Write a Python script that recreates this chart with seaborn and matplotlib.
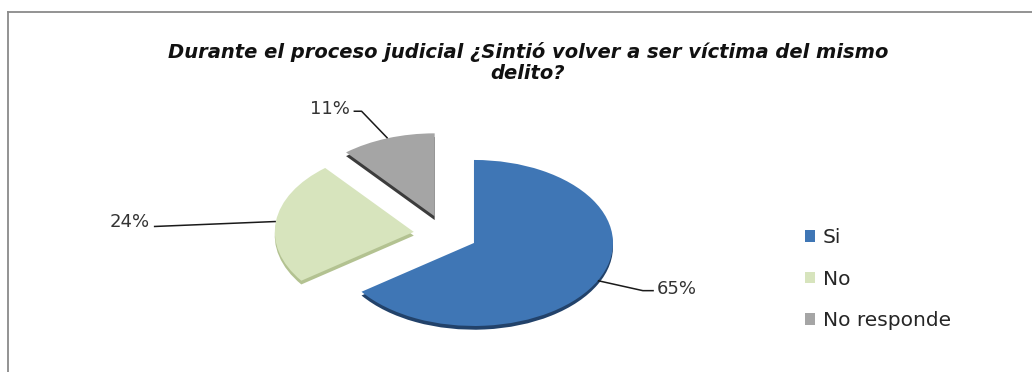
import numpy as np
import matplotlib
matplotlib.use("Agg")
import matplotlib.pyplot as plt
from matplotlib.patches import Patch
import seaborn as sns

# Survey answers
categories = ["Si", "No", "No responde"]
shares = [65, 24, 11]
pct_labels = ["65%", "24%", "11%"]
title_lines = ["Durante el proceso judicial ¿Sintió volver a ser víctima del mismo",
               "delito?"]

face_colors = ["#3f76b5", "#d7e4bd", "#a5a5a5"]
side_colors = ["#22426a", "#b3c291", "#3c3c3c"]

sns.set_theme(style="white")
plt.rcParams["font.family"] = ["DejaVu Sans"]

W, H = 1032, 372
fig = plt.figure(figsize=(W / 100, H / 100), dpi=100)
fig.patch.set_facecolor("white")

# chart-area border (top and left edges only)
frame = fig.add_axes([8 / W, 0, 1 - 8 / W, (H - 12) / H])
frame.set_xticks([]); frame.set_yticks([])
frame.patch.set_alpha(0)
for side in ("right", "bottom"):
    frame.spines[side].set_visible(False)
for side in ("left", "top"):
    frame.spines[side].set_color("#8a8a8a")
    frame.spines[side].set_linewidth(1.3)

# pie axes covering the figure; x unit = 139 px, y unit = 83 px (tilted look)
ax = fig.add_axes([0, 0, 1, 1])
rx, ry = 139.0, 83.0
cx, cy = 445.5, 234.3
explode = [0.23, 0.23, 0.23]

# extruded side of each slice, then the top faces
ax.pie(shares, explode=explode, colors=side_colors, startangle=90,
       counterclock=False, radius=1, center=(0, -0.045),
       wedgeprops=dict(linewidth=0))
wedges, _ = ax.pie(shares, explode=explode, colors=face_colors, startangle=90,
                   counterclock=False, radius=1, center=(0, 0),
                   wedgeprops=dict(linewidth=0))
ax.set_aspect("auto")
ax.set_xlim(-cx / rx, (W - cx) / rx)
ax.set_ylim((cy - H) / ry, cy / ry)
ax.axis("off")

# leader-line routes (pixel offsets from the slice edge, y downward)
routes = [
    [(0, 0), (45, 10), (56, 10)],
    [(0, 0), (-122, 5)],
    [(0, 0), (-26, -27), (-34, -27)],
]
text_offsets = [(59, 8), (-126, 0), (-38, -29)]
text_align = ["left", "right", "right"]

for w, lab, route, toff, ha in zip(wedges, pct_labels, routes, text_offsets, text_align):
    mid = np.deg2rad((w.theta1 + w.theta2) / 2)
    ax0, ay0 = w.center[0] + w.r * np.cos(mid), w.center[1] + w.r * np.sin(mid)
    xs = [ax0 + dx / rx for dx, dy in route]
    ys = [ay0 - dy / ry for dx, dy in route]
    ax.plot(xs, ys, color="#1a1a1a", lw=1.1, solid_capstyle="butt")
    ax.annotate(lab, xy=(ax0, ay0), xytext=(toff[0], -toff[1]),
                textcoords="offset pixels", ha=ha, va="center",
                fontsize=13, color="#333333")

# title
title_kw = dict(ha="center", va="baseline", fontsize=14, fontweight="bold",
                fontstyle="italic", color="#111111")
fig.text(528 / W, 1 - 58 / H, title_lines[0], **title_kw)
fig.text(528 / W, 1 - 79 / H, title_lines[1], **title_kw)

# legend
handles = [Patch(facecolor=c, edgecolor="none") for c in face_colors]
fig.legend(handles, categories, loc="upper left",
           bbox_to_anchor=(805 / W, 1 - 228 / H), bbox_transform=fig.transFigure,
           frameon=False, fontsize=14.5, handlelength=0.5, handleheight=0.5,
           handletextpad=0.4, labelspacing=1.12, borderpad=0, borderaxespad=0,
           labelcolor="#262626")

fig.savefig("out.png", dpi=100, facecolor="white")
